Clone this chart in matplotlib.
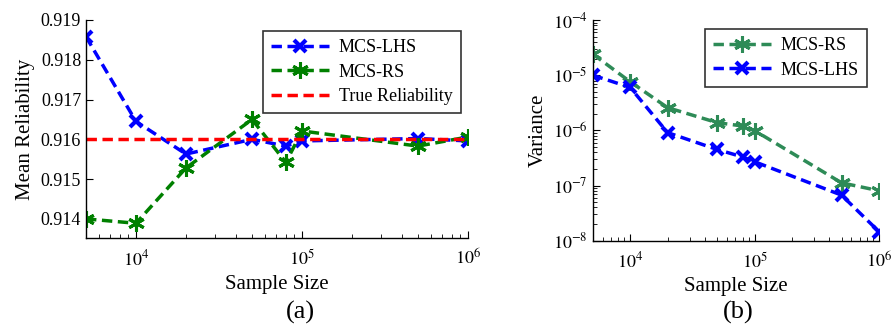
import math
import matplotlib
matplotlib.use("Agg")
import matplotlib.pyplot as plt
from matplotlib.ticker import LogLocator, FixedLocator, NullFormatter, FuncFormatter

plt.rcParams['font.family'] = ['Liberation Serif', 'DejaVu Serif']
plt.rcParams['mathtext.fontset'] = 'stix'

sample_size = [5000, 10000, 20000, 50000, 80000, 100000, 500000, 1000000]
mean_lhs = [0.91858, 0.91645, 0.91563, 0.91600, 0.91583, 0.91596, 0.91602, 0.91596]
mean_rs = [0.91400, 0.91389, 0.91528, 0.91650, 0.91542, 0.91621, 0.91583, 0.91606]
true_rel = 0.91602
var_rs = [2.42e-5, 7.6e-6, 2.58e-6, 1.38e-6, 1.2e-6, 9.9e-7, 1.12e-7, 8.05e-8]
var_lhs = [1.0e-5, 6.0e-6, 9.1e-7, 4.5e-7, 3.3e-7, 2.7e-7, 6.7e-8, 1.46e-8]

fig = plt.figure(figsize=(8.93, 3.31), dpi=100)

ax1 = fig.add_axes([0.0963, 0.281, 0.4278, 0.6586])
ax2 = fig.add_axes([0.6637, 0.2728, 0.3206, 0.6668])

BLUE = (0, 0, 1)
GREEN = (0, 0.5, 0)
SEA = '#2E8B57'
RED = (1, 0, 0)
ast = (6, 2, 0)
dash = (3, 1.6)

def pow_fmt(v, p):
    return r'$10^{%d}$' % round(math.log10(v))

ax1.plot(sample_size, mean_lhs, color=BLUE, ls='--', dashes=dash, lw=2.5, marker='x',
         ms=9, mew=3, label='MCS-LHS')
ax1.plot(sample_size, mean_rs, color=GREEN, ls='--', dashes=dash, lw=2.5, marker=ast,
         ms=12, mew=2.2, label='MCS-RS')
ax1.plot([sample_size[0], sample_size[-1]], [true_rel, true_rel], color=RED, ls='--',
         dashes=dash, lw=2.5, label='True Reliability')
ax1.set_xscale('log')
ax1.set_xlim(5000, 1e6)
ax1.set_ylim(0.91352, 0.919)
ax1.set_yticks([0.914, 0.915, 0.916, 0.917, 0.918, 0.919])
ax1.yaxis.set_major_formatter(FuncFormatter(lambda v, p: f"{v:.3f}"))
ax1.set_xlabel('Sample Size', fontsize=15, labelpad=4)
ax1.set_ylabel('Mean Reliability', fontsize=15, labelpad=4)
leg_kw = dict(fontsize=13, frameon=True, fancybox=False, edgecolor='black',
              handlelength=3.2, borderpad=0.45, labelspacing=0.42,
              handletextpad=0.55, borderaxespad=0)
leg1 = ax1.legend(loc='upper left', bbox_to_anchor=(0.463, 0.95), **leg_kw)
leg1.get_frame().set_linewidth(1.2)

ax2.plot(sample_size, var_rs, color=SEA, ls='--', dashes=dash, lw=2.5, marker=ast,
         ms=12, mew=2.2, label='MCS-RS')
ax2.plot(sample_size, var_lhs, color=BLUE, ls='--', dashes=dash, lw=2.5, marker='x',
         ms=9, mew=3, label='MCS-LHS')
ax2.set_xscale('log')
ax2.set_yscale('log')
ax2.set_xlim(5000, 1e6)
ax2.set_ylim(1e-8, 1e-4)
ax2.set_xlabel('Sample Size', fontsize=15, labelpad=4)
ax2.set_ylabel('Variance', fontsize=15, labelpad=4)
leg2 = ax2.legend(loc='upper left', bbox_to_anchor=(0.392, 0.959), **leg_kw)
leg2.get_frame().set_linewidth(1.2)

for ax in (ax1, ax2):
    ax.spines['top'].set_visible(False)
    ax.spines['right'].set_visible(False)
    ax.spines['left'].set_linewidth(1.0)
    ax.spines['bottom'].set_linewidth(1.0)
    ax.tick_params(which='both', direction='in', labelsize=13, colors='black')
    ax.tick_params(which='major', length=5)
    ax.tick_params(which='minor', length=3)
    ax.xaxis.set_major_locator(FixedLocator([1e4, 1e5, 1e6]))
    ax.xaxis.set_minor_locator(LogLocator(base=10, subs=range(2, 10), numticks=20))
    ax.xaxis.set_minor_formatter(NullFormatter())
    ax.xaxis.set_major_formatter(FuncFormatter(pow_fmt))
    ax.tick_params(axis='x', pad=8)

ax2.yaxis.set_major_locator(FixedLocator([1e-8, 1e-7, 1e-6, 1e-5, 1e-4]))
ax2.yaxis.set_minor_locator(LogLocator(base=10, subs=range(2, 10), numticks=20))
ax2.yaxis.set_minor_formatter(NullFormatter())
ax2.yaxis.set_major_formatter(FuncFormatter(pow_fmt))
ax1.yaxis.set_minor_locator(FixedLocator([]))

fig.text(0.3365, 0.02, '(a)', fontsize=19, ha='center', va='bottom')
fig.text(0.8265, 0.02, '(b)', fontsize=19, ha='center', va='bottom')

fig.savefig('out.png', dpi=100)
